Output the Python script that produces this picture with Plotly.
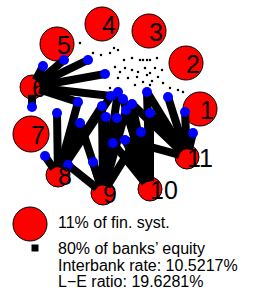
import math
import plotly.graph_objects as go

# Red nodes (banks): label, x, y, radius (px in a 259x296 canvas)
bank_labels = ["1", "2", "3", "4", "5", "6", "7", "8", "9", "10", "11"]
bank_x = [200, 186, 149, 102, 57, 32, 31, 58, 103, 150, 187]
bank_y = [109, 63, 31, 24, 44, 87, 134, 175, 193, 189, 157]
bank_r = [17, 17, 17, 17, 17, 12, 18, 12, 12, 12, 12]

# Blue nodes
blue_x = [43, 64, 88, 105, 111, 78, 32, 57, 102, 123, 126, 117, 106, 147, 168, 150, 80, 141, 113, 125, 93, 68, 45, 193, 185, 118, 132]
blue_y = [66, 60, 60, 74, 96, 102, 107, 113, 106, 99, 110, 118, 117, 92, 97, 113, 123, 132, 143, 140, 162, 165, 156, 133, 112, 92, 104]

# Edges: bank label -> list of blue node indices
edges = {
    "6": [0, 1, 2, 3, 4, 5, 6],
    "8": [7, 16, 22, 21, 8, 4, 5],
    "9": [16, 20, 18, 12, 11, 10, 17, 8, 25, 21],
    "10": [18, 19, 17, 15, 10, 9, 13, 26],
    "11": [15, 13, 14, 24, 23, 26, 19],
}

# Small dots (weak links)
dot_x = [80, 93, 101, 110, 114, 118, 124, 132, 140, 147, 115, 125, 132, 138, 145, 108, 120, 137, 147, 118, 128, 143, 135, 110, 150, 143, 150, 157, 155, 162, 150, 158, 163, 170, 178, 183, 152]
dot_y = [43, 53, 55, 53, 48, 50, 60, 58, 60, 60, 67, 68, 70, 72, 68, 72, 72, 77, 75, 78, 78, 82, 85, 88, 85, 60, 60, 58, 68, 70, 73, 77, 83, 88, 90, 92, 81]

legend_size_text = "11% of fin. syst."
legend_edge_text = "80% of banks’ equity"
interbank_text = "Interbank rate: 10.5217%"
le_text = "L−E ratio: 19.6281%"

FONT = "Liberation Sans, Arial, Helvetica, sans-serif"

fig = go.Figure()

# red nodes
fig.add_trace(go.Scatter(x=bank_x, y=bank_y, mode="markers",
                         marker=dict(color="#FF0000", size=[2 * r for r in bank_r], opacity=1,
                                     line=dict(color="black", width=1)),
                         hoverinfo="skip", showlegend=False))

# edges (start inside the bank circle, near its rim, drawn over it)
ex, ey = [], []
for lab, targets in edges.items():
    i = bank_labels.index(lab)
    for t in targets:
        dx, dy = blue_x[t] - bank_x[i], blue_y[t] - bank_y[i]
        d = math.hypot(dx, dy) or 1.0
        k = 0.65 * bank_r[i] / d
        ex += [bank_x[i] + dx * k, blue_x[t], None]
        ey += [bank_y[i] + dy * k, blue_y[t], None]
fig.add_trace(go.Scatter(x=ex, y=ey, mode="lines", line=dict(color="black", width=8),
                         hoverinfo="skip", showlegend=False))

# dots
fig.add_trace(go.Scatter(x=dot_x, y=dot_y, mode="markers",
                         marker=dict(color="black", size=2.5, opacity=1), hoverinfo="skip", showlegend=False))

# blue nodes
fig.add_trace(go.Scatter(x=blue_x, y=blue_y, mode="markers",
                         marker=dict(color="#0000FF", size=10, opacity=1, line=dict(width=0)),
                         hoverinfo="skip", showlegend=False))

for lab, x, y in zip(bank_labels, bank_x, bank_y):
    fig.add_annotation(x=x - 2, y=y + 1, text=lab, showarrow=False, xanchor="left", yanchor="middle",
                       font=dict(family=FONT, size=25, color="black"))

# legend marks
fig.add_trace(go.Scatter(x=[30], y=[224], mode="markers",
                         marker=dict(color="#FF0000", size=34, opacity=1, line=dict(color="black", width=1)),
                         hoverinfo="skip", showlegend=False))
fig.add_trace(go.Scatter(x=[35], y=[248], mode="markers",
                         marker=dict(color="black", size=7, symbol="square", opacity=1),
                         hoverinfo="skip", showlegend=False))

for txt, y in [(legend_size_text, 222), (legend_edge_text, 248), (interbank_text, 265), (le_text, 281)]:
    fig.add_annotation(x=56, y=y, text=txt, showarrow=False, xanchor="left", yanchor="middle",
                       font=dict(family=FONT, size=16, color="black"))

fig.update_layout(
    width=259, height=296,
    margin=dict(l=0, r=0, t=0, b=0),
    paper_bgcolor="white", plot_bgcolor="white",
    xaxis=dict(range=[0, 259], visible=False, fixedrange=True),
    yaxis=dict(range=[296, 0], visible=False, fixedrange=True),
    showlegend=False,
)

fig.write_html("out.html", config={"displayModeBar": False},
               post_script="document.body.style.margin='0';document.body.style.overflow='hidden';")
